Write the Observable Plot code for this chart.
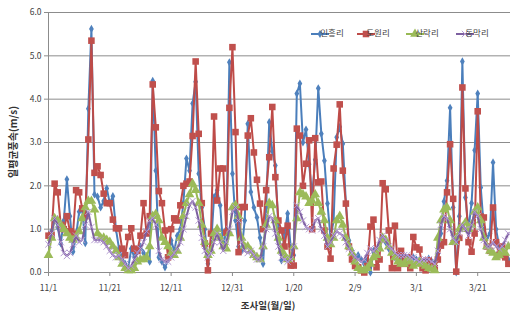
<!DOCTYPE html>
<html><head><meta charset="utf-8">
<script src="https://cdn.jsdelivr.net/npm/d3@7"></script>
<script src="https://cdn.jsdelivr.net/npm/@observablehq/plot@0.6"></script>
<style>
body{margin:0;background:#fff}
#chart{position:relative;width:510px;height:318px;overflow:hidden}
</style>
</head><body><div id="chart"></div>
<script>
const seriesNames = ["인흥리", "도원리", "산락리", "동막리"];

const inheung = [
  0.85,0.95,1.25,1.05,0.67,1.2,2.15,1.3,0.48,0.85,
  1.4,1.45,0.68,3.78,5.62,1.8,1.75,1.5,1.65,1.94,
  1.6,1.76,1.0,0.55,0.35,0.2,0.1,0.55,0.35,0.5,
  0.6,0.45,0.35,0.25,4.42,2.35,0.35,0.25,0.12,0.3,
  0.74,0.5,0.85,1.0,1.6,2.63,2.35,3.9,4.4,2.28,
  1.5,1.0,0.2,0.6,1.74,1.9,1.55,0.58,1.0,4.85,
  2.28,1.2,0.6,0.5,1.2,3.43,1.86,1.5,1.27,0.8,
  0.2,1.5,3.47,2.8,2.47,1.0,0.28,0.9,1.36,0.6,
  0.4,4.13,4.36,3.0,3.3,2.5,1.8,2.6,4.25,3.2,
  2.58,1.59,0.8,1.2,3.12,3.36,2.97,1.6,0.74,0.5,
  0.35,0.4,0.3,0.2,0.3,0.0,0.5,0.45,0.6,0.8,
  0.7,0.55,0.45,0.35,0.3,0.35,0.3,0.25,0.3,0.35,
  0.3,0.25,0.2,0.2,0.32,0.25,0.2,0.45,0.9,1.64,
  2.12,3.8,1.5,0.0,1.3,4.87,1.73,1.0,1.6,2.82,
  4.13,1.96,1.04,0.8,0.9,2.54,1.0,0.6,0.5,0.35,
  0.3
];

const dowon = [
  0.85,0.87,2.05,1.85,1.1,1.0,1.3,0.95,0.9,1.9,
  1.85,1.48,1.3,3.07,5.35,2.3,2.45,2.25,1.82,1.6,
  1.6,1.22,1.02,1.02,0.55,0.4,0.82,1.02,0.55,0.5,
  0.85,1.6,0.9,1.3,4.34,3.35,1.88,1.6,0.97,0.35,
  1.0,1.25,1.2,1.55,2.0,2.05,2.1,3.15,4.87,3.2,
  1.6,0.67,0.05,0.9,3.6,1.66,2.4,2.4,0.92,3.8,
  5.2,3.24,0.47,1.51,1.51,3.16,3.56,2.77,2.14,1.59,
  1.0,1.9,2.66,3.82,2.2,1.2,0.97,0.6,1.08,0.16,
  0.16,3.32,3.16,2.0,2.51,3.05,1.0,3.1,2.08,2.1,
  0.97,0.6,0.32,2.4,2.95,3.88,2.35,1.59,0.6,0.3,
  0.15,0.12,0.05,0.0,0.15,1.06,1.22,0.12,0.3,2.06,
  1.92,0.97,0.1,1.08,0.1,0.5,0.2,0.35,0.1,0.82,
  0.58,0.53,0.1,0.05,0.28,0.15,0.1,0.3,0.62,0.7,
  1.85,2.96,1.7,0.02,0.8,4.27,1.94,0.7,0.48,0.9,
  3.72,1.29,1.27,0.6,0.5,1.5,0.7,0.4,0.6,0.35,
  0.2
];

const sanrak = [
  0.4,0.8,1.25,1.2,1.1,1.0,0.9,0.8,0.75,0.8,
  0.95,1.25,1.5,1.65,1.65,1.45,0.9,0.8,0.8,0.75,
  0.7,0.6,0.5,0.35,0.2,0.1,0.05,0.05,0.1,0.25,
  0.3,0.3,0.35,0.6,1.3,1.35,1.2,0.8,0.7,0.6,
  0.45,0.4,0.5,0.8,1.3,1.6,1.8,2.05,1.9,1.6,
  1.1,0.7,0.4,0.5,0.9,1.0,0.8,0.6,0.55,0.9,
  1.5,1.55,1.3,0.8,0.6,0.6,0.5,0.4,0.35,0.3,
  0.6,1.1,1.6,1.55,1.2,0.8,0.5,0.4,0.3,0.35,
  0.6,1.25,1.85,1.8,1.75,1.6,1.65,1.8,1.6,1.4,
  1.2,0.8,0.65,0.8,1.2,1.3,1.1,0.8,0.6,0.45,
  0.25,0.1,0.05,0.05,0.1,0.2,0.35,0.4,0.55,0.8,
  0.75,0.6,0.45,0.35,0.25,0.2,0.2,0.3,0.25,0.15,
  0.2,0.25,0.2,0.15,0.1,0.08,0.05,0.8,1.2,1.45,
  1.5,1.2,0.7,0.8,1.0,1.05,1.15,1.0,1.1,1.4,
  1.5,1.2,0.8,0.6,0.5,0.45,0.35,0.4,0.5,0.45,
  0.6
];

const dongmak = [
  0.65,0.9,1.25,1.1,0.7,0.45,0.38,0.45,0.65,0.85,
  0.7,0.75,1.1,1.4,1.05,0.75,0.75,0.75,0.7,0.6,
  0.5,0.4,0.35,0.4,0.3,0.2,0.1,0.15,0.3,0.45,
  0.55,0.7,0.95,1.2,1.25,1.1,0.5,0.3,0.25,0.25,
  0.35,0.45,0.55,0.7,1.0,1.3,1.55,1.65,1.5,1.2,
  0.8,0.5,0.35,0.45,0.7,0.9,0.7,0.5,0.7,1.0,
  1.4,1.5,1.2,0.7,0.5,0.45,0.5,0.4,0.3,0.3,
  0.6,1.0,1.3,1.25,0.9,0.6,0.35,0.3,0.25,0.3,
  0.6,1.55,1.4,1.2,1.05,1.0,0.97,1.2,1.25,1.0,
  0.85,0.6,0.7,0.85,0.95,0.9,0.85,0.7,0.55,0.45,
  0.35,0.3,0.25,0.3,0.45,0.55,0.5,0.55,0.75,0.85,
  0.75,0.6,0.55,0.45,0.4,0.4,0.4,0.4,0.35,0.35,
  0.3,0.25,0.3,0.3,0.3,0.25,0.2,0.5,1.1,1.3,
  1.25,1.0,0.8,0.7,0.9,1.1,1.0,0.85,1.1,1.4,
  1.3,1.0,0.75,0.6,0.6,0.7,0.6,0.55,0.6,0.75,
  0.9
];

const tickDays = [0, 20, 40, 60, 80, 100, 120, 140];
const tickLabels = ["11/1", "11/21", "12/11", "12/31", "1/20", "2/9", "3/1", "3/21"];
const yTicks = [0, 1, 2, 3, 4, 5, 6];
const yLabel = "일평균풍속(m/s)";
const xLabel = "조사일(월/일)";

const FONT = "'Noto Sans CJK KR', 'Noto Sans', sans-serif";
const allSeries = [inheung, dowon, sanrak, dongmak];
const lineColors = ["#4a7ebb", "#be4b48", "#98b954", "#7d60a0"];
const markColors = ["#4f81bd", "#c0504d", "#9bbb59", "#b49ad2"];
const symbols = ["diamond", "square", "triangle", "times"];
const radii = [2.5, 3.7, 3.6, 3.0];

const rows = allSeries.map((vals) => vals.map((v, i) => ({day: i, v})));

const marks = [
  Plot.gridY(yTicks.slice(1), {stroke: "#8c8c8c", strokeOpacity: 1, strokeWidth: 1}),
  Plot.ruleX([0], {stroke: "#8c8c8c"}),
  Plot.ruleY([0], {stroke: "#8c8c8c"}),
  Plot.axisY({ticks: yTicks, tickFormat: d3.format(".1f"), tickSize: 4, tickPadding: 3,
    stroke: "#8c8c8c", fill: "#404040", label: null}),
  Plot.axisX({ticks: tickDays, tickFormat: (d) => tickLabels[tickDays.indexOf(d)], tickSize: 4,
    tickPadding: 8, stroke: "#8c8c8c", fill: "#404040", label: null})
];
rows.forEach((r, k) => {
  marks.push(Plot.line(r, {x: "day", y: "v", stroke: lineColors[k], strokeWidth: 2}));
  if (symbols[k] === "times") {
    marks.push(Plot.dot(r, {x: "day", y: "v", symbol: "times", r: radii[k], stroke: markColors[k], strokeWidth: 1}));
  } else {
    marks.push(Plot.dot(r, {x: "day", y: "v", symbol: symbols[k], r: radii[k], fill: markColors[k], stroke: "none"}));
  }
});

const chart = Plot.plot({
  width: 510, height: 318,
  marginLeft: 48, marginRight: 0, marginTop: 12, marginBottom: 46,
  style: {fontFamily: FONT, fontSize: "8.5px", color: "#404040", background: "#fff"},
  x: {type: "linear", domain: [0, 150.7]},
  y: {domain: [0, 6]},
  marks
});
document.getElementById("chart").appendChild(chart);

const svg = d3.select(chart);
svg.append("text")
  .attr("transform", "translate(14,142) rotate(-90)")
  .attr("text-anchor", "middle").attr("dominant-baseline", "middle")
  .attr("font-family", FONT).attr("font-size", 10).attr("font-weight", "bold").attr("fill", "#333")
  .text(yLabel);
svg.append("text")
  .attr("x", 268).attr("y", 306)
  .attr("text-anchor", "middle").attr("dominant-baseline", "middle")
  .attr("font-family", FONT).attr("font-size", 9.5).attr("font-weight", "bold").attr("fill", "#333")
  .text(xLabel);

const legendX = [311, 357, 406, 456];
const legendY = 34;
const d3sym = [d3.symbolDiamond, d3.symbolSquare, d3.symbolTriangle, d3.symbolTimes];
const lg = svg.append("g");
seriesNames.forEach((name, k) => {
  const x0 = legendX[k];
  lg.append("line").attr("x1", x0).attr("x2", x0 + 18).attr("y1", legendY).attr("y2", legendY)
    .attr("stroke", lineColors[k]).attr("stroke-width", 2);
  const s = Math.PI * radii[k] * radii[k];
  const p = lg.append("path").attr("d", d3.symbol(d3sym[k], s)())
    .attr("transform", `translate(${x0 + 9},${legendY})`);
  if (k === 3) p.attr("fill", "none").attr("stroke", markColors[k]);
  else p.attr("fill", markColors[k]);
  lg.append("text").attr("x", x0 + 21).attr("y", legendY).attr("dominant-baseline", "middle")
    .attr("font-family", FONT).attr("font-size", 8.5).attr("fill", "#404040").text(name);
});
</script>
</body></html>
